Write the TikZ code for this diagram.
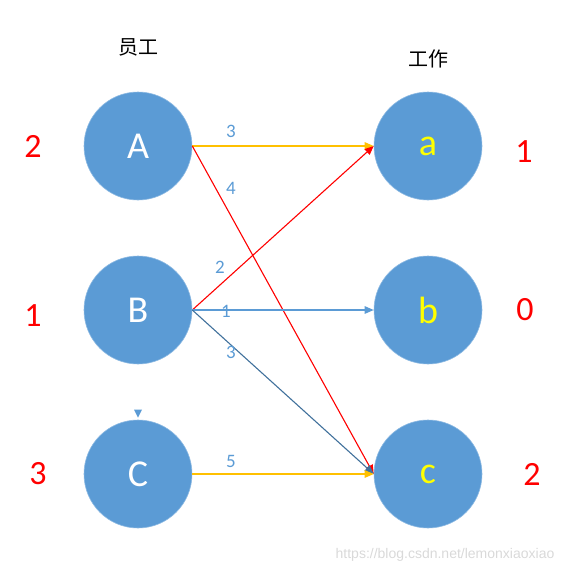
\documentclass[tikz,border=0pt]{standalone}
\usepackage{fontspec}
\setmainfont{Carlito}
\newfontfamily\cjk{Noto Sans CJK SC}
\newfontfamily\urlfont{Liberation Sans}
\usepackage{xcolor}
\usetikzlibrary{shapes.geometric, arrows.meta, positioning}
\definecolor{nodecolor}{RGB}{91,155,213}
\definecolor{darkblue}{RGB}{65,113,156}
\definecolor{goldcolor}{RGB}{255,192,0}
\definecolor{redcolor}{RGB}{255,0,0}
\definecolor{yellowcolor}{RGB}{255,255,0}

\begin{document}
\begin{tikzpicture}[
    x=1pt, y=-1pt,
    circ/.style={circle, fill=nodecolor, draw=nodecolor!70!white, line width=0.6pt, minimum size=108pt, inner sep=0pt, font=\fontsize{38}{38}\selectfont},
    worker/.style={circ, text=white},
    job/.style={circ, text=yellowcolor},
    arrow/.style={-{Triangle[length=9pt, width=7.5pt]}, line width=1.1pt},
    weight/.style={font=\fontsize{19}{19}\selectfont, text=nodecolor},
    count/.style={font=\fontsize{34}{34}\selectfont, text=redcolor},
    title/.style={font=\cjk\fontsize{20}{20}\selectfont}
]
\useasboundingbox (0,0) rectangle (579,574);

% Nodes
\node[worker] (A) at (138,146) {A};
\node[worker] (B) at (138,310) {B};
\node[worker] (C) at (138,474) {C};
\node[job] (a) at (428,146) {a};
\node[job] (b) at (428,310) {b};
\node[job] (c) at (428,474) {c};

% Arrows
\draw[arrow, goldcolor] (A.east) -- (a.west);
\draw[arrow, redcolor] (A.east) -- (c.west);
\draw[arrow, redcolor] (B.east) -- (a.west);
\draw[arrow, nodecolor] (B.east) -- (b.west);
\draw[arrow, darkblue] (B.east) -- (c.west);
\draw[arrow, goldcolor] (C.east) -- (c.west);

% Marker above C
\fill[nodecolor] ([xshift=-4pt, yshift=10pt]C.north) -- ([xshift=4pt, yshift=10pt]C.north) -- ([yshift=2pt]C.north) -- cycle;

% Labels
\node[title] (staff) at (138,47) {员工};
\node[title] (work) at (428,59) {工作};
\node[weight] (wAa) at (231,131) {3};
\node[weight] (wAc) at (231,188) {4};
\node[weight] (wBa) at (220,267) {2};
\node[weight] (wBb) at (226,311) {1};
\node[weight] (wBc) at (231,352) {3};
\node[weight] (wCc) at (231,461) {5};
\node[count] (nA) at (33,146) {2};
\node[count] (nB) at (33,316) {1};
\node[count] (nC) at (38,474) {3};
\node[count] (na) at (524,152) {1};
\node[count] (nb) at (525,310) {0};
\node[count] (nc) at (532,474) {2};
\node[font=\urlfont\fontsize{14}{14}\selectfont, text=black!15] (url) at (445,555) {https://blog.csdn.net/lemonxiaoxiao};

\end{tikzpicture}
\end{document}
